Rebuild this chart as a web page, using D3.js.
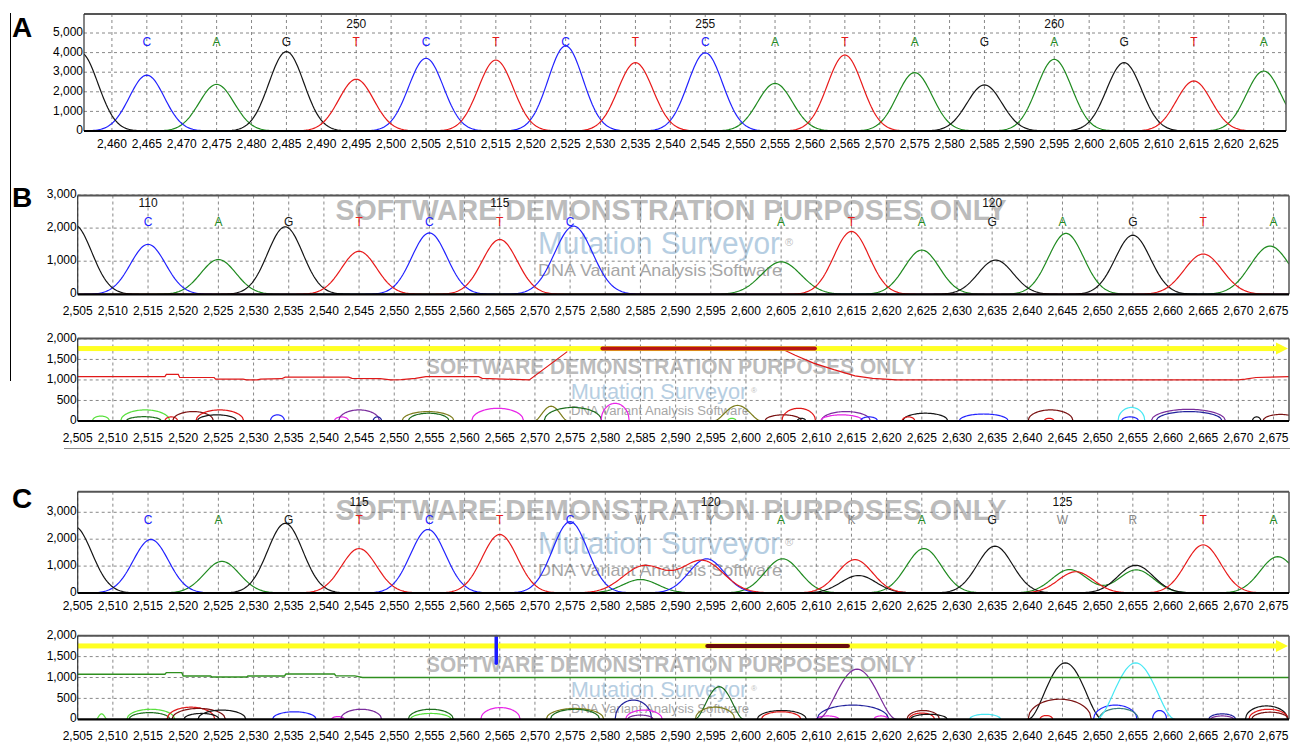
<!DOCTYPE html>
<html>
<head>
<meta charset="utf-8">
<script src="https://cdn.jsdelivr.net/npm/d3@7"></script>
<style>
  body { margin: 0; background: #fff; }
  text { font-family: "Liberation Sans", Arial, sans-serif; }
</style>
</head>
<body>
<div id="chart"></div>
<script>
// ---- data ----
// panel A : reference trace
var aTicks = d3.range(2460, 2626, 5);
var aYTicks = [0, 1000, 2000, 3000, 4000, 5000];
var aBases = ["C","A","G","T","C","T","C","T","C","A","T","A","G","A","G","T","A"];
var aBasePos = [2465,2475,2485,2495,2505,2515,2525,2535,2545,2555,2565,2575,2585,2595,2605,2615,2625];
var aNumbers = [[250, 2495], [255, 2545], [260, 2595]];
var aPeaksG = [[2455.5, 4000], [2485, 4050], [2585, 2350], [2605, 3490]];
var aPeaksC = [[2465, 2850], [2505, 3710], [2525, 4340], [2545, 3990]];
var aPeaksA = [[2475, 2380], [2555, 2430], [2575, 2980], [2595, 3660], [2625, 3060]];
var aPeaksT = [[2495, 2640], [2515, 3620], [2535, 3490], [2565, 3880], [2615, 2550]];

// panel B : sample with deletion
var bTicks = d3.range(2505, 2676, 5);
var bYTicks = [0, 1000, 2000, 3000];
var bBases = ["C","A","G","T","C","T","C","A","T","A","G","A","G","T","A"];
var bBasePos = [2515,2525,2535,2545,2555,2565,2575,2605,2615,2625,2635,2645,2655,2665,2675];
var bNumbers = [[110, 2515], [115, 2565], [120, 2635]];
var bPeaksG = [[2504.5, 2100], [2534.5, 2040], [2635.5, 1035], [2655, 1785]];
var bPeaksC = [[2515, 1510], [2555, 1855], [2575.5, 2060, 2.7]];
var bPeaksA = [[2525, 1050], [2605, 980, 2.8], [2625, 1335], [2645.5, 1840], [2674.5, 1455, 2.8]];
var bPeaksT = [[2545, 1300], [2565, 1655], [2615, 1900], [2665, 1215, 2.7]];
// B mutation panel
var lowYTicks = [0, 500, 1000, 1500, 2000];
var bQual1 = [[2505,1080],[2517.4,1080],[2517.6,1135],[2519.3,1135],[2519.5,1060],[2524.4,1060],[2524.6,1020],[2528.5,1020],[2529,1000],[2530.5,1000],[2531,1020],[2534,1030],[2534.5,1070],[2543.5,1070],[2544,1040],[2548,1030],[2549.5,1000],[2551,1010],[2553,1040],[2554.5,1080],[2562,1080],[2562.5,1040],[2569.2,1000],[2574.6,1690]];
var bQual2 = [[2605.2,1750],[2607,1600],[2609.6,1410],[2612.5,1250],[2615.5,1100],[2618,1040],[2621.4,1000],[2670,1000],[2671,1020],[2672.5,1060],[2677.2,1080]];
var bMutation = [2579.6, 2609.8];
var bArcs = [
  [2508.3,1.2,120,"lg"],[2514.6,3.5,270,"lg"],[2514.4,2.5,105,"dg"],[2518.3,0.9,100,"rd"],
  [2521.4,2.9,230,"mr"],[2525.2,3.4,270,"rd"],[2524.8,2.8,150,"bk"],[2533.4,1.0,150,"bl"],
  [2542.5,1.0,100,"mg"],[2545.0,2.9,270,"pu"],[2547.6,0.6,100,"nv"],[2554.8,3.7,230,"ol"],
  [2554.9,2.9,190,"dg"],[2564.7,3.7,310,"mg"],[2572.3,2.4,360,"ol","p"],[2575.4,4.1,330,"dg"],
  [2581.4,2.0,430,"mg"],[2598.8,3.4,380,"ol","p"],[2598.0,0.6,65,"lg"],[2605.3,2.6,150,"mr"],
  [2607.5,2.4,310,"rd"],[2607.9,0.6,65,"bk"],[2614.2,3.5,230,"pu"],[2613.6,3.0,150,"mg"],
  [2617.5,1.2,100,"bl"],[2625.5,3.2,190,"bk"],[2623.1,0.9,100,"rd"],[2633.8,3.5,170,"bl"],
  [2643.3,3.2,270,"mr"],[2643.1,0.7,65,"rd"],[2654.8,1.9,330,"cy"],[2654.6,1.2,100,"bl"],
  [2662.9,5.3,285,"pu"],[2663.0,4.7,230,"nv"],[2672.6,0.6,100,"bk"],[2676.0,2.5,160,"mr"]
];

// panel C : heterozygous sample
var cTicks = d3.range(2505, 2676, 5);
var cYTicks = [0, 1000, 2000, 3000];
var cBases = ["C","A","G","T","C","T","C","W","Y","A","K","A","G","W","R","T","A"];
var cBasePos = [2515,2525,2535,2545,2555,2565,2575,2585,2595,2605,2615,2625,2635,2645,2655,2665,2675];
var cNumbers = [[115, 2545], [120, 2595], [125, 2645]];
var cPeaksG = [[2504.5, 2480], [2534.5, 2590], [2616, 650], [2635.4, 1740], [2655.4, 1030]];
var cPeaksC = [[2515.4, 1990], [2554.8, 2360], [2575, 2650], [2594.4, 1270]];
var cPeaksA = [[2525.5, 1175], [2585, 500], [2605.2, 1270], [2625.3, 1650], [2646, 870], [2655.5, 860], [2675.6, 1350]];
var cPeaksT = [[2545, 1650], [2565, 2175], [2585.5, 1000, 3], [2593.8, 1200, 3], [2615.5, 1240], [2646.9, 790], [2665, 1790]];
var cQual = [[2505,1076],[2517.4,1076],[2517.6,1116],[2519.8,1116],[2520,1036],[2523.9,1036],[2524.1,1012],[2529,1012],[2529.2,1036],[2534.4,1036],[2534.6,1084],[2541.5,1084],[2541.7,1040],[2544.4,1040],[2545.5,1000],[2677.2,1000]];
var cMutation = [2594.5, 2614.5];
var cMarker = [2564.5, 1340, 1980];
var cArcs = [
  [2508.4,0.8,130,"lg","p"],[2515.4,3.4,240,"lg"],[2515.2,2.9,160,"dg"],[2521.1,3.4,290,"rd"],
  [2522.2,3.8,260,"mr"],[2525.5,3.4,220,"bk"],[2522.6,2.5,140,"bk"],[2535.8,3.1,180,"bl"],
  [2542.0,0.9,65,"mg"],[2545.3,2.9,240,"pu"],[2555.2,3.2,240,"dg"],[2555.2,2.9,140,"lg"],
  [2565.1,2.8,280,"mg"],[2575.7,4.1,260,"ol"],[2575.7,3.5,240,"dg"],[2584.0,2.6,460,"nv"],
  [2585.5,2.6,220,"mg"],[2585.0,1.8,100,"pu"],[2596.2,3.5,780,"dg","p"],[2595.6,2.8,290,"ol"],
  [2605.1,3.5,210,"bk"],[2605.0,2.8,180,"rd"],[2611.6,1.6,80,"mg"],[2615.8,5.6,1200,"pu","p"],
  [2615.2,5.1,340,"nv"],[2619.2,1.0,80,"mg"],[2625.2,2.3,210,"mr"],[2625.0,1.8,150,"rd"],
  [2626.0,2.6,120,"bk"],[2634.0,2.2,120,"cy"],[2645.4,5.3,1350,"bk","p"],[2644.6,4.5,480,"mr"],
  [2642.7,0.9,90,"rd"],[2652.5,3.1,340,"bl"],[2653.0,2.8,260,"tl"],[2655.4,5.6,1350,"cy","p"],
  [2658.8,1.0,210,"bl"],[2667.7,1.9,130,"nv"],[2667.7,1.6,80,"pu"],[2674.0,3.0,320,"bk"],
  [2674.3,2.8,240,"rd"],[2674.5,2.6,170,"mr"]
];

// ---- styles ----
var baseColor = { C: "#2222ff", A: "#1f8a1f", G: "#151515", T: "#e81a1a" };
var arcColor = { lg: "#58e03c", dg: "#1d6e1d", ol: "#7d7d1c", mr: "#7a1212", rd: "#e01818", bk: "#151515",
                 bl: "#2424ff", mg: "#e824e8", pu: "#7a2c9c", nv: "#22229c", cy: "#48e8f4", tl: "#3a8080" };
var fmt = d3.format(",");
var sigma = 2.5;

var svg = d3.select("#chart")
  .append("svg")
  .attr("width", 1290)
  .attr("height", 746);

var clipCount = 0;

function panel(cfg) {
  var x = d3.scaleLinear().domain(cfg.xDomain).range([cfg.left, cfg.right]);
  var y = d3.scaleLinear().domain([0, cfg.yMax]).range([cfg.zero, cfg.top]);
  var g = svg.append("g");
  var id = "clip" + (clipCount++);
  svg.append("clipPath").attr("id", id)
    .append("rect")
    .attr("x", cfg.left).attr("y", cfg.top)
    .attr("width", cfg.right - cfg.left).attr("height", cfg.zero - cfg.top + 2);

  // watermark (demo licence stamp), not on the reference trace
  if (cfg.wmScale) {
    var k = cfg.wmScale;
    var wm = g.append("g");
    wm.append("text").attr("x", 671).attr("y", cfg.wmY)
      .attr("text-anchor", "middle").attr("font-size", 30 * k).attr("font-weight", "bold")
      .attr("fill", "#bcbcbc")
      .attr("textLength", 671 * k).attr("lengthAdjust", "spacingAndGlyphs")
      .text("SOFTWARE DEMONSTRATION PURPOSES ONLY");
    wm.append("text").attr("x", 659).attr("y", cfg.wmY + 34 * k)
      .attr("text-anchor", "middle").attr("font-size", 31 * k).attr("fill", "#b6cee2")
      .attr("textLength", 242 * k).attr("lengthAdjust", "spacingAndGlyphs")
      .text("Mutation Surveyor");
    wm.append("text").attr("x", 659 + 126 * k).attr("y", cfg.wmY + 26 * k)
      .attr("font-size", 11 * k).attr("fill", "#c0c0c0").text("\u00ae");
    wm.append("text").attr("x", 660).attr("y", cfg.wmY + 56 * k)
      .attr("text-anchor", "middle").attr("font-size", 17 * k).attr("fill", "#a6a6a6")
      .attr("textLength", 244 * k).attr("lengthAdjust", "spacingAndGlyphs")
      .text("DNA Variant Analysis Software");
  }

  // dashed grid
  g.selectAll(".vgrid").data(cfg.xTicks).enter().append("line")
    .attr("x1", function (d) { return x(d); }).attr("x2", function (d) { return x(d); })
    .attr("y1", cfg.top).attr("y2", cfg.zero)
    .attr("stroke", "#6a6a6a").attr("stroke-width", 0.8).attr("stroke-dasharray", "3,3");
  g.selectAll(".hgrid").data(cfg.yTicks.filter(function (d) { return d > 0; })).enter().append("line")
    .attr("x1", cfg.left).attr("x2", cfg.right)
    .attr("y1", function (d) { return y(d); }).attr("y2", function (d) { return y(d); })
    .attr("stroke", "#6a6a6a").attr("stroke-width", 0.8).attr("stroke-dasharray", "3,3");

  // tick labels
  g.selectAll(".xl").data(cfg.xTicks).enter().append("text")
    .attr("x", function (d) { return x(d); }).attr("y", cfg.labelY)
    .attr("text-anchor", "middle").attr("dominant-baseline", "middle")
    .attr("font-size", 12).attr("fill", "#000")
    .text(fmt);
  g.selectAll(".yl").data(cfg.yTicks).enter().append("text")
    .attr("x", cfg.left - 1).attr("y", function (d) { return y(d); })
    .attr("text-anchor", "end").attr("dominant-baseline", "middle")
    .attr("font-size", 12).attr("fill", "#000")
    .text(fmt);

  return { x: x, y: y, g: g, cfg: cfg, clip: "url(#" + id + ")" };
}

function frame(p) {
  var c = p.cfg, g = p.g;
  g.append("line").attr("x1", c.left).attr("x2", c.right).attr("y1", c.top).attr("y2", c.top)
    .attr("stroke", "#555").attr("stroke-width", 2);
  g.append("line").attr("x1", c.right).attr("x2", c.right).attr("y1", c.top).attr("y2", c.zero)
    .attr("stroke", "#555").attr("stroke-width", 1.5);
  g.append("line").attr("x1", c.left).attr("x2", c.left).attr("y1", c.top).attr("y2", c.zero)
    .attr("stroke", "#333").attr("stroke-width", 1.2);
  g.append("line").attr("x1", c.left).attr("x2", c.right).attr("y1", c.zero).attr("y2", c.zero)
    .attr("stroke", "#000").attr("stroke-width", 2.2);
}

function traces(p, channels) {
  var lo = p.x.domain()[0], hi = p.x.domain()[1];
  var line = d3.line().x(function (d) { return p.x(d[0]); }).y(function (d) { return p.y(d[1]); });
  var tg = p.g.append("g").attr("clip-path", p.clip);
  ["A", "C", "G", "T"].forEach(function (b) {
    var peaks = channels[b];
    var pts = d3.range(lo, hi + 0.2, 0.2).map(function (t) {
      var v = 0;
      peaks.forEach(function (pk) {
        var s = pk[2] || sigma;
        v += pk[1] * Math.exp(-(t - pk[0]) * (t - pk[0]) / (2 * s * s));
      });
      return [t, v];
    });
    tg.append("path").datum(pts)
      .attr("fill", "none").attr("stroke", baseColor[b]).attr("stroke-width", 1.2)
      .attr("d", line);
  });
}

function calls(p, bases, pos, numbers, letterY, numberY) {
  p.g.selectAll(".call").data(bases).enter().append("text")
    .attr("x", function (d, i) { return p.x(pos[i]); }).attr("y", letterY)
    .attr("text-anchor", "middle").attr("dominant-baseline", "middle")
    .attr("font-size", 12)
    .attr("fill", function (d) { return baseColor[d] || "#8a8a8a"; })
    .text(function (d) { return d; });
  p.g.selectAll(".num").data(numbers).enter().append("text")
    .attr("x", function (d) { return p.x(d[1]); }).attr("y", numberY)
    .attr("text-anchor", "middle").attr("dominant-baseline", "middle")
    .attr("font-size", 12).attr("fill", "#111")
    .text(function (d) { return d[0]; });
}

function arcs(p, list) {
  var line = d3.line().x(function (d) { return p.x(d[0]); }).y(function (d) { return p.y(d[1]); });
  var ag = p.g.append("g").attr("clip-path", p.clip);
  list.forEach(function (a) {
    var pts = d3.range(-1, 1.001, 0.05).map(function (u) {
      var f = a[4] === "p" ? Math.pow(1 - u * u, 2) : Math.sqrt(Math.max(0, 1 - u * u));
      return [a[0] + u * a[1], a[2] * f];
    });
    ag.append("path").datum(pts)
      .attr("fill", "none").attr("stroke", arcColor[a[3]]).attr("stroke-width", 1.2)
      .attr("d", line);
  });
}

function mutationBar(p, level, span, barColor) {
  var yy = p.y(level), x0 = p.x(p.x.domain()[0]), x1 = p.cfg.right - 1;
  p.g.append("rect").attr("x", x0).attr("y", yy - 2.5).attr("width", x1 - x0 - 10).attr("height", 5)
    .attr("fill", "#ffff22");
  p.g.append("path")
    .attr("d", "M" + (x1 - 12) + "," + (yy - 6) + "L" + x1 + "," + yy + "L" + (x1 - 12) + "," + (yy + 6) + "Z")
    .attr("fill", "#ffff22");
  p.g.append("line").attr("x1", p.x(span[0])).attr("x2", p.x(span[1]))
    .attr("y1", yy).attr("y2", yy)
    .attr("stroke", barColor).attr("stroke-width", 4).attr("stroke-linecap", "round");
}

// ---- panel A ----
var pA = panel({ xDomain: [2456, 2628.2], left: 84, right: 1286, top: 14, zero: 131, yMax: 5970,
  xTicks: aTicks, yTicks: aYTicks, labelY: 145, wmY: 0, wmScale: 0 });
traces(pA, { A: aPeaksA, C: aPeaksC, G: aPeaksG, T: aPeaksT });
calls(pA, aBases, aBasePos, aNumbers, 43, 25);
frame(pA);

// ---- panel B ----
var pB = panel({ xDomain: [2505, 2677.2], left: 77.7, right: 1289, top: 195.5, zero: 294.3, yMax: 2985,
  xTicks: bTicks, yTicks: bYTicks, labelY: 312, wmY: 220, wmScale: 1 });
traces(pB, { A: bPeaksA, C: bPeaksC, G: bPeaksG, T: bPeaksT });
calls(pB, bBases, bBasePos, bNumbers, 222.7, 204);
frame(pB);

var pBL = panel({ xDomain: [2505, 2677.2], left: 77.7, right: 1289, top: 338.5, zero: 421, yMax: 2010,
  xTicks: bTicks, yTicks: lowYTicks, labelY: 439, wmY: 374, wmScale: 0.73 });
arcs(pBL, bArcs);
var qLine = d3.line().x(function (d) { return pBL.x(d[0]); }).y(function (d) { return pBL.y(d[1]); });
[bQual1, bQual2].forEach(function (q) {
  pBL.g.append("path").datum(q).attr("fill", "none").attr("stroke", "#e01818").attr("stroke-width", 1.2)
    .attr("clip-path", pBL.clip).attr("d", qLine);
});
mutationBar(pBL, 1765, bMutation, "#b81414");
frame(pBL);
svg.append("line").attr("x1", 64).attr("x2", 1290).attr("y1", 448.5).attr("y2", 448.5)
  .attr("stroke", "#8c8c8c").attr("stroke-width", 1);

// ---- panel C ----
var pC = panel({ xDomain: [2505, 2677.2], left: 77.7, right: 1289, top: 491.7, zero: 593, yMax: 3765,
  xTicks: cTicks, yTicks: cYTicks, labelY: 607, wmY: 520, wmScale: 1 });
traces(pC, { A: cPeaksA, C: cPeaksC, G: cPeaksG, T: cPeaksT });
calls(pC, cBases, cBasePos, cNumbers, 521, 503);
frame(pC);

var pCL = panel({ xDomain: [2505, 2677.2], left: 77.7, right: 1289, top: 635.7, zero: 719.3, yMax: 2000,
  xTicks: cTicks, yTicks: lowYTicks, labelY: 737, wmY: 672, wmScale: 0.73 });
arcs(pCL, cArcs);
pCL.g.append("path").datum(cQual).attr("fill", "none").attr("stroke", "#2f8f1f").attr("stroke-width", 1.4)
  .attr("clip-path", pCL.clip)
  .attr("d", d3.line().x(function (d) { return pCL.x(d[0]); }).y(function (d) { return pCL.y(d[1]); }));
mutationBar(pCL, 1755, cMutation, "#6a0c0c");
pCL.g.append("line").attr("x1", pCL.x(cMarker[0])).attr("x2", pCL.x(cMarker[0]))
  .attr("y1", pCL.y(cMarker[1])).attr("y2", pCL.y(cMarker[2]))
  .attr("stroke", "#1a1aff").attr("stroke-width", 3.5).attr("stroke-linecap", "round");
frame(pCL);

// panel letters and side rule
svg.append("line").attr("x1", 10.5).attr("x2", 10.5).attr("y1", 13).attr("y2", 381)
  .attr("stroke", "#000").attr("stroke-width", 1);
[["A", 37], ["B", 207], ["C", 508]].forEach(function (d) {
  svg.append("text").attr("x", 12).attr("y", d[1])
    .attr("font-family", "'Liberation Serif', 'Times New Roman', serif")
    .attr("font-weight", "bold").attr("font-size", 28).attr("fill", "#000")
    .text(d[0]);
});
</script>
</body>
</html>
